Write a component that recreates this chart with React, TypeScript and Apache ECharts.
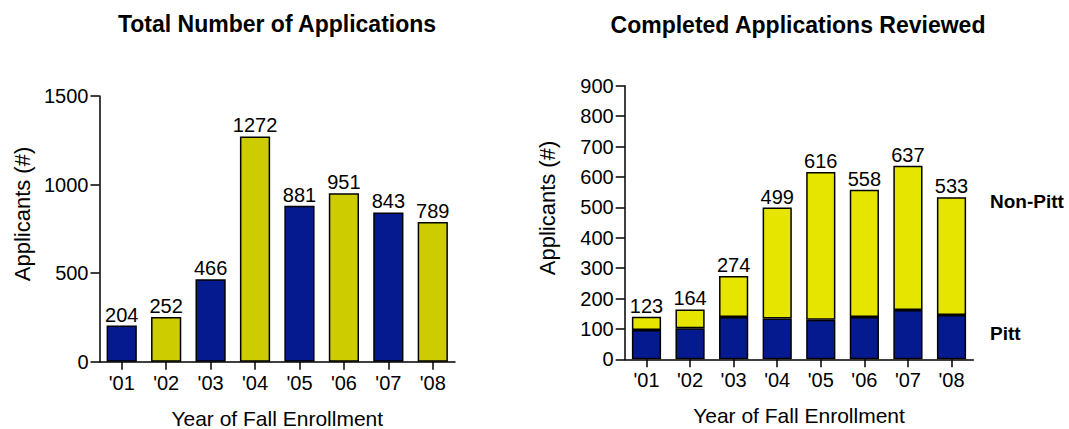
import React, { useEffect, useRef } from "react";
import * as echarts from "echarts";

const years = ["'01", "'02", "'03", "'04", "'05", "'06", "'07", "'08"];
const totalApplications = [204, 252, 466, 1272, 881, 951, 843, 789];
const pittReviewed = [96, 102, 139, 134, 130, 139, 162, 146];
const nonPittReviewed = [44, 62, 135, 365, 486, 419, 475, 387];
const reviewedLabels = [123, 164, 274, 499, 616, 558, 637, 533];

const BLUE = "#061A8F";
const OLIVE = "#CCCC00";
const YELLOW = "#E5E500";
const FONT = "Liberation Sans, Arial, sans-serif";
const NARROW = "Liberation Sans Narrow, Arial Narrow, Liberation Sans, sans-serif";

export default function App() {
  const ref = useRef<HTMLDivElement>(null);
  useEffect(() => {
    if (!ref.current) return;
    const chart = echarts.init(ref.current, undefined, { renderer: "svg" });
    const axisLine = { lineStyle: { color: "#000", width: 1.5 } };
    const yTick = { show: true, length: 9, inside: false, lineStyle: { color: "#000", width: 1.5 } };
    const xTick = { show: true, length: 8, alignWithLabel: true, lineStyle: { color: "#000", width: 1.5 } };
    const tickLabel = { color: "#000", fontSize: 20, fontFamily: NARROW };
    const nameStyle = { color: "#000", fontSize: 21, fontFamily: FONT };
    const valueLabel = { show: true, position: "top", distance: 1, color: "#000", fontSize: 20, fontFamily: NARROW };
    chart.setOption({
      animation: false,
      textStyle: { fontFamily: FONT },
      grid: [
        { left: 99.5, right: 614, top: 96, bottom: 67.3, containLabel: false, outerBoundsMode: "none" },
        { left: 624.7, right: 95.7, top: 85.7, bottom: 69.7, containLabel: false, outerBoundsMode: "none" },
      ],
      xAxis: [
        {
          type: "category", gridIndex: 0, data: years,
          axisLine, axisTick: xTick,
          axisLabel: { ...tickLabel, margin: 11 },
          name: "Year of Fall Enrollment", nameLocation: "middle", nameGap: 46,
          nameTextStyle: nameStyle,
        },
        {
          type: "category", gridIndex: 1, data: years,
          axisLine, axisTick: xTick,
          axisLabel: { ...tickLabel, margin: 11 },
          name: "Year of Fall Enrollment", nameLocation: "middle", nameGap: 46,
          nameTextStyle: nameStyle,
        },
      ],
      yAxis: [
        {
          type: "value", gridIndex: 0, min: 0, max: 1500, interval: 500,
          axisLine: { show: true, ...axisLine }, axisTick: yTick, splitLine: { show: false },
          axisLabel: { ...tickLabel, margin: 11, formatter: (v: number) => String(v) },
        },
        {
          type: "value", gridIndex: 1, min: 0, max: 900, interval: 100,
          axisLine: { show: true, ...axisLine }, axisTick: yTick, splitLine: { show: false },
          axisLabel: { ...tickLabel, margin: 11, formatter: (v: number) => String(v) },
        },
      ],
      series: [
        {
          type: "bar", xAxisIndex: 0, yAxisIndex: 0, barWidth: "68%",
          data: totalApplications.map((v, i) => ({
            value: v,
            itemStyle: { color: i % 2 === 0 ? BLUE : OLIVE },
          })),
          itemStyle: { borderColor: "#000", borderWidth: 1.5 },
          label: valueLabel,
        },
        {
          type: "bar", name: "Pitt", xAxisIndex: 1, yAxisIndex: 1, stack: "r", barWidth: "67%",
          data: pittReviewed,
          itemStyle: { color: BLUE, borderColor: "#000", borderWidth: 1.5 },
        },
        {
          type: "bar", name: "Non-Pitt", xAxisIndex: 1, yAxisIndex: 1, stack: "r", barWidth: "67%",
          data: nonPittReviewed,
          itemStyle: { color: YELLOW, borderColor: "#000", borderWidth: 1.5 },
          label: {
            ...valueLabel,
            formatter: (p: any) => String(reviewedLabels[p.dataIndex]),
          },
        },
      ],
      graphic: [
        {
          type: "text", x: 277, y: 24,
          style: { text: "Total Number of Applications", fill: "#000", font: `bold 23px ${FONT}`, textAlign: "center", textVerticalAlign: "middle" },
        },
        {
          type: "text", x: 798, y: 25,
          style: { text: "Completed Applications Reviewed", fill: "#000", font: `bold 23px ${FONT}`, textAlign: "center", textVerticalAlign: "middle" },
        },
        {
          type: "text", x: 22, y: 214, rotation: Math.PI / 2,
          style: { text: "Applicants (#)", fill: "#000", font: `22px ${FONT}`, textAlign: "center", textVerticalAlign: "middle" },
        },
        {
          type: "text", x: 547, y: 208, rotation: Math.PI / 2,
          style: { text: "Applicants (#)", fill: "#000", font: `22px ${FONT}`, textAlign: "center", textVerticalAlign: "middle" },
        },
        {
          type: "text", x: 990, y: 201,
          style: { text: "Non-Pitt", fill: "#000", font: `bold 19px ${FONT}`, textAlign: "left", textVerticalAlign: "middle" },
        },
        {
          type: "text", x: 990, y: 333,
          style: { text: "Pitt", fill: "#000", font: `bold 19px ${FONT}`, textAlign: "left", textVerticalAlign: "middle" },
        },
      ],
    });
    return () => chart.dispose();
  }, []);
  return (
    <div
      ref={ref}
      style={{ position: "fixed", left: 0, top: 0, width: 1069, height: 429, background: "#fff" }}
    />
  );
}
